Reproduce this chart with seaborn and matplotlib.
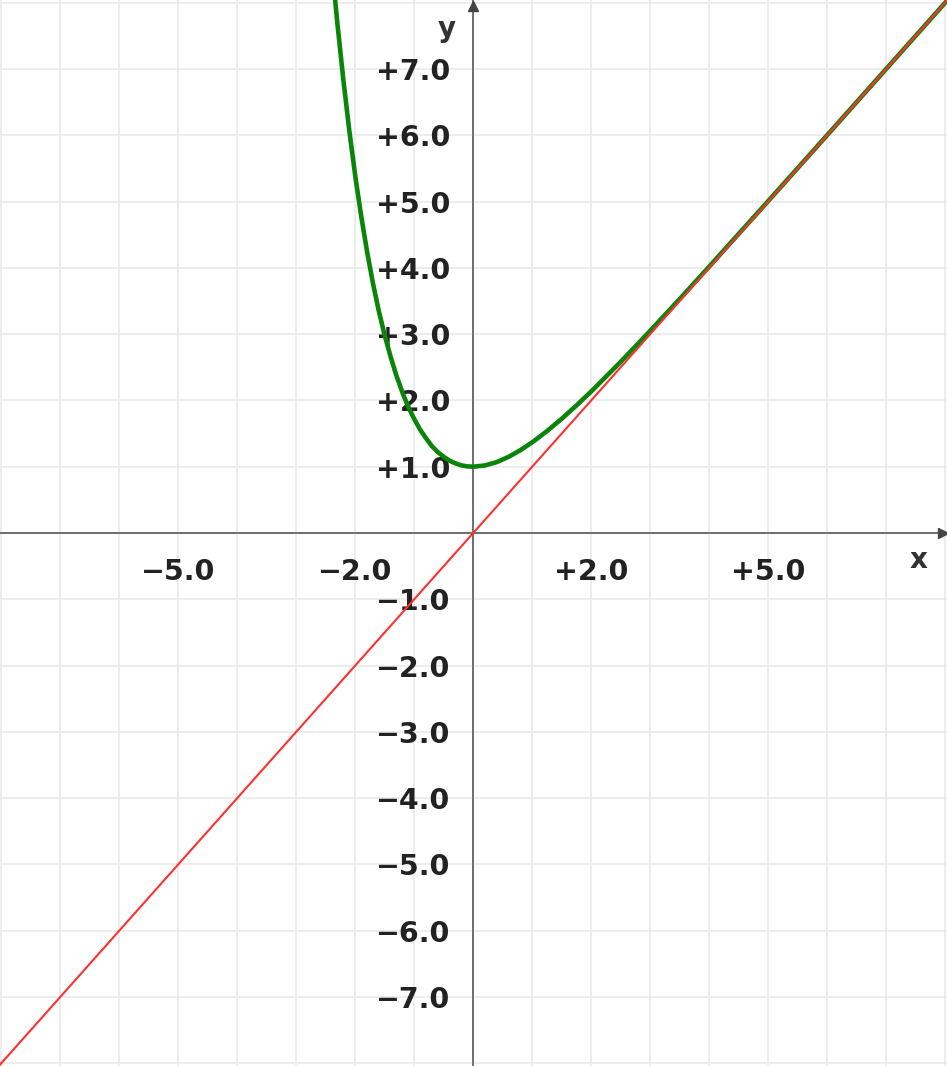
import matplotlib
matplotlib.use("Agg")
import matplotlib.pyplot as plt
from matplotlib.ticker import FixedLocator, FuncFormatter
import seaborn as sns

# Data
curve_x = [-2.34, -2.3, -2.2, -2.1, -2.0, -1.9, -1.8, -1.7, -1.6, -1.5, -1.4, -1.3,
           -1.2, -1.1, -1.0, -0.9, -0.8, -0.7, -0.6, -0.5, -0.4, -0.3, -0.2, -0.1,
           0.0, 0.2, 0.4, 0.6, 0.8, 1.0, 1.25, 1.5, 1.75, 2.0, 2.5, 3.0, 3.5, 4.0,
           5.0, 6.0, 7.0, 8.1]
curve_y = [8.04, 7.67, 6.83, 6.07, 5.39, 4.79, 4.25, 3.77, 3.35, 2.98, 2.66, 2.37,
           2.12, 1.90, 1.72, 1.56, 1.43, 1.31, 1.22, 1.15, 1.09, 1.05, 1.02, 1.005,
           1.0, 1.019, 1.07, 1.149, 1.249, 1.368, 1.537, 1.723, 1.924, 2.135, 2.582,
           3.05, 3.53, 4.018, 5.007, 6.002, 7.001, 8.1]
line_x = [-8.1, 8.1]
line_y = [-8.1, 8.1]

x_labeled = [-5, -2, 2, 5]
y_labeled = [-7, -6, -5, -4, -3, -2, -1, 1, 2, 3, 4, 5, 6, 7]
grid_ticks = list(range(-8, 9))

sns.set_style("white")
plt.rcParams['font.family'] = ['DejaVu Sans']

fig = plt.figure(figsize=(9.47, 10.66), dpi=100)
ax = fig.add_axes([0, 0, 1, 1])

sns.lineplot(x=curve_x, y=curve_y, ax=ax, color="#0a850a", linewidth=3.3,
             estimator=None, sort=False)
sns.lineplot(x=line_x, y=line_y, ax=ax, color="#ff3030", linewidth=1.5,
             estimator=None, sort=False)

ax.set_xlim(-8.02, 8.03)
ax.set_ylim(-8.04, 8.04)

# Grid every unit
ax.xaxis.set_major_locator(FixedLocator(grid_ticks))
ax.yaxis.set_major_locator(FixedLocator(grid_ticks))
ax.grid(True, color="#e8e8e8", linewidth=1.1)
ax.set_axisbelow(True)

# Axes through the origin
for s in ["top", "right"]:
    ax.spines[s].set_visible(False)
ax.spines["left"].set_position(("data", 0))
ax.spines["bottom"].set_position(("data", 0))
for s in ["left", "bottom"]:
    ax.spines[s].set_color("#6e6e6e")
    ax.spines[s].set_linewidth(1.4)
    ax.spines[s].set_zorder(1.5)

ax.xaxis.set_major_formatter(FuncFormatter(
    lambda v, p: (f"{v:+.1f}".replace("-", "\u2212")) if round(v) in x_labeled else ""))
ax.yaxis.set_major_formatter(FuncFormatter(
    lambda v, p: (f"{v:+.1f}".replace("-", "\u2212")) if round(v) in y_labeled else ""))

ax.tick_params(axis="both", direction="inout", length=4.5, width=1.2,
               color="#555555", labelsize=20.5, labelcolor="#222222")
ax.tick_params(axis="x", pad=16)
ax.tick_params(axis="y", pad=14)
for lab in ax.get_xticklabels() + ax.get_yticklabels():
    lab.set_fontweight("bold")

# Arrow heads on the axes
ax.plot(0, 0.994, marker="^", color="#444444", markersize=7,
        transform=ax.get_xaxis_transform(), clip_on=False)
ax.plot(0.996, 0, marker=">", color="#444444", markersize=7,
        transform=ax.get_yaxis_transform(), clip_on=False)

# Axis names
ax.text(7.55, -0.41, "x", fontsize=20, fontweight="bold", color="#333333",
        ha="center", va="center")
ax.text(-0.44, 7.6, "y", fontsize=20, fontweight="bold", color="#333333",
        ha="center", va="center")

fig.savefig("out.png", dpi=100)
